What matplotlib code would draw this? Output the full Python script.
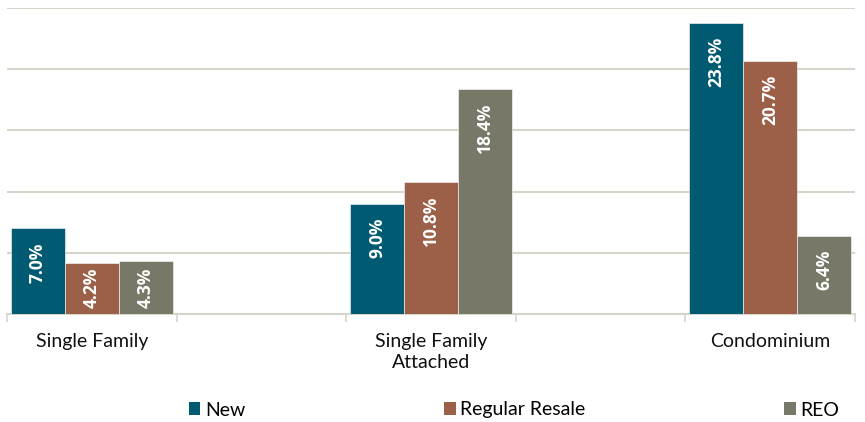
import matplotlib
matplotlib.use("Agg")
import matplotlib.pyplot as plt
from matplotlib.patches import Patch

plt.rcParams['font.family'] = ['Lato', 'DejaVu Sans']

categories = ['Single Family', 'Single Family\nAttached', 'Condominium']
series = ['New', 'Regular Resale', 'REO']
new_vals = [7.0, 9.0, 23.8]
resale_vals = [4.2, 10.8, 20.7]
reo_vals = [4.3, 18.4, 6.4]
colors = ['#005A71', '#9C5F47', '#787868']

W, H = 865, 422
fig = plt.figure(figsize=(W / 100, H / 100), dpi=100)
ax = fig.add_axes([7 / W, (H - 314) / H, (855 - 7) / W, (314 - 8) / H])

grid_c = '#D6D5CC'
slot_pos = [0, 2, 4]
bw = 0.318
vals = [new_vals, resale_vals, reo_vals]
px_per_unit = (314 - 8) / 25.0
lab_font = ['Open Sans', 'DejaVu Sans']
for si, (v, c) in enumerate(zip(vals, colors)):
    xs = [p + (si - 1) * bw for p in slot_pos]
    ax.bar(xs, v, width=bw, color=c, edgecolor='#FFFFFF', linewidth=0.4, zorder=3)
    for x, h in zip(xs, v):
        txt = f'{h:.1f}%'
        lab_len = (len(txt) * 10.5) / px_per_unit
        pad = 14 / px_per_unit
        top = h - pad
        if top - lab_len < 0.4:
            ax.text(x, h / 2, txt, rotation=90, ha='center', va='center',
                    color='white', fontsize=12.5, fontweight='bold',
                    family=lab_font, zorder=4)
        else:
            ax.text(x, top, txt, rotation=90, ha='center', va='top',
                    color='white', fontsize=12.5, fontweight='bold',
                    family=lab_font, zorder=4)

ax.set_xlim(-0.5, 4.5)
ax.set_ylim(0, 25)
ax.set_yticks([0, 5, 10, 15, 20, 25])
ax.yaxis.grid(True, color=grid_c, linewidth=1.5, zorder=0)
ax.set_axisbelow(True)
ax.tick_params(axis='y', length=0, labelleft=False)
for s in ['top', 'right', 'left']:
    ax.spines[s].set_visible(False)
ax.spines['bottom'].set_color(grid_c)
ax.spines['bottom'].set_linewidth(1.5)
ax.spines['bottom'].set_zorder(2)

ax.set_xticks(slot_pos)
ax.set_xticklabels(categories, fontsize=14, color='#111111', linespacing=1.25)
ax.set_xticks([-0.5, 0.5, 1.5, 2.5, 3.5, 4.5], minor=True)
ax.tick_params(axis='x', which='major', length=0, pad=14)
ax.tick_params(axis='x', which='minor', length=6, width=1.2, color=grid_c, direction='out')

handles = [Patch(facecolor=c, edgecolor='none') for c in colors]
fig.legend(handles, series, loc='center', bbox_to_anchor=(514 / W, (H - 410) / H),
           ncol=3, frameon=False, fontsize=14, handlelength=0.6, handleheight=0.6,
           handletextpad=0.25, columnspacing=10.2, borderaxespad=0, borderpad=0)

fig.savefig('out.png', dpi=100)
